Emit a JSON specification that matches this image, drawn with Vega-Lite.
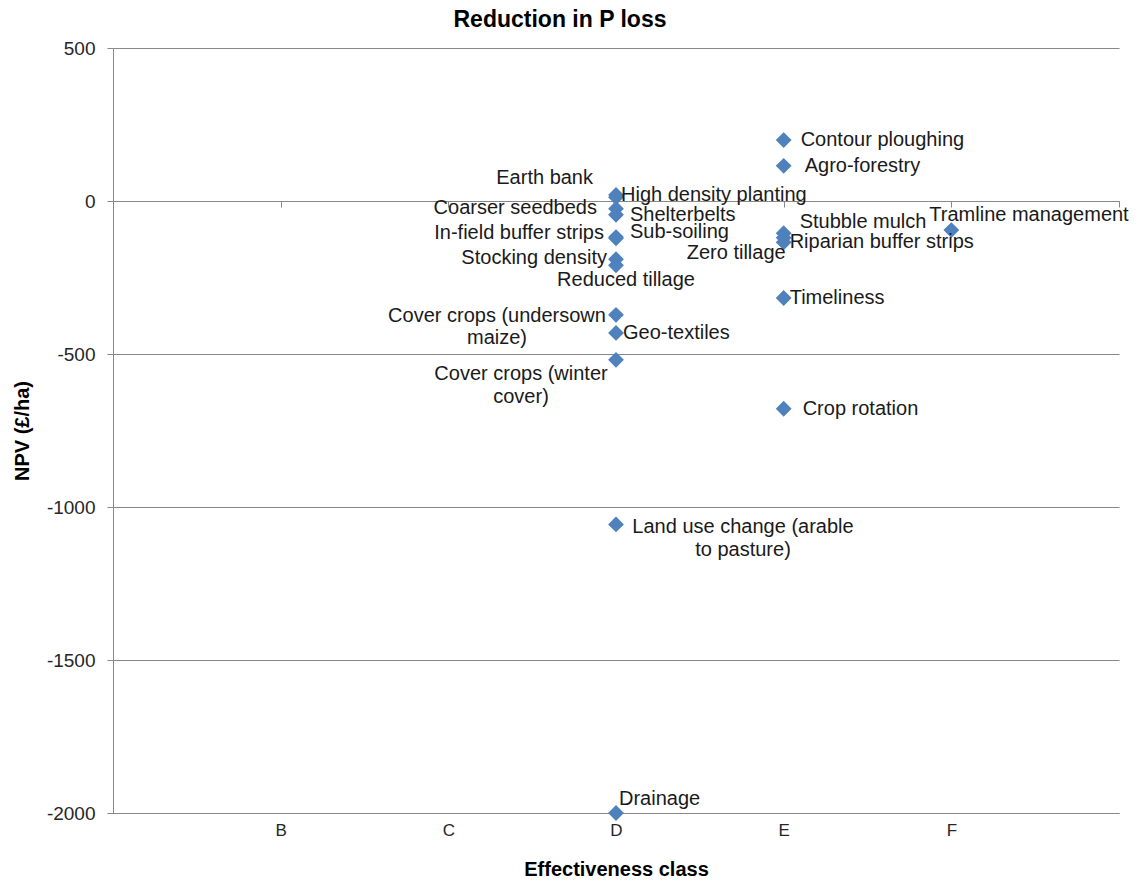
{
  "$schema": "https://vega.github.io/schema/vega-lite/v6.json",
  "autosize": "none",
  "width": 1006,
  "height": 765,
  "padding": {"left": 113, "top": 48, "right": 20, "bottom": 68},
  "background": "white",
  "title": {
    "text": "Reduction in P loss",
    "font": "Liberation Sans",
    "fontSize": 23,
    "fontWeight": "bold",
    "color": "#000000",
    "anchor": "middle",
    "dx": -56,
    "offset": 7
  },
  "config": {
    "view": {"stroke": null},
    "text": {"font": "Liberation Sans", "fontSize": 20, "color": "#1a1a1a", "baseline": "middle"}
  },
  "data": {
    "values": [
      {"measure": "Earth bank", "cls": 3, "npv": 20},
      {"measure": "High density planting", "cls": 3, "npv": 12},
      {"measure": "Coarser seedbeds", "cls": 3, "npv": -25},
      {"measure": "Shelterbelts", "cls": 3, "npv": -45},
      {"measure": "In-field buffer strips", "cls": 3, "npv": -118},
      {"measure": "Sub-soiling", "cls": 3, "npv": -122},
      {"measure": "Stocking density", "cls": 3, "npv": -190},
      {"measure": "Reduced tillage", "cls": 3, "npv": -210},
      {"measure": "Cover crops (undersown\nmaize)", "cls": 3, "npv": -372},
      {"measure": "Geo-textiles", "cls": 3, "npv": -431},
      {"measure": "Cover crops (winter\ncover)", "cls": 3, "npv": -519},
      {"measure": "Land use change (arable\nto pasture)", "cls": 3, "npv": -1057},
      {"measure": "Drainage", "cls": 3, "npv": -2000},
      {"measure": "Contour ploughing", "cls": 4, "npv": 199},
      {"measure": "Agro-forestry", "cls": 4, "npv": 115},
      {"measure": "Stubble mulch", "cls": 4, "npv": -105},
      {"measure": "Zero tillage", "cls": 4, "npv": -120},
      {"measure": "Riparian buffer strips", "cls": 4, "npv": -135},
      {"measure": "Timeliness", "cls": 4, "npv": -317},
      {"measure": "Crop rotation", "cls": 4, "npv": -679},
      {"measure": "Tramline management", "cls": 5, "npv": -95}
    ]
  },
  "encoding": {
    "x": {"field": "cls", "type": "quantitative", "scale": {"domain": [0, 6], "nice": false, "zero": false}, "axis": null},
    "y": {
      "field": "npv",
      "type": "quantitative",
      "scale": {"domain": [-2000, 500], "nice": false},
      "axis": {
        "values": [-2000, -1500, -1000, -500, 0, 500],
        "labelExpr": "'' + datum.value",
        "title": "NPV (£/ha)",
        "titleFont": "Liberation Sans",
        "titleFontSize": 20,
        "titleFontWeight": "bold",
        "titleColor": "#000000",
        "titlePadding": 14,
        "labelFont": "Liberation Sans",
        "labelFontSize": 19,
        "labelColor": "#262626",
        "labelPadding": 12,
        "grid": true,
        "gridColor": "#888888",
        "gridWidth": 1,
        "domainColor": "#888888",
        "tickColor": "#888888",
        "tickSize": 6
      }
    }
  },
  "layer": [
    {
      "mark": {"type": "point", "shape": "diamond", "filled": true, "size": 250, "color": "#4F81BD", "opacity": 1},
      "encoding": {
        "x": {
          "field": "cls",
          "type": "quantitative",
          "scale": {"domain": [0, 6], "nice": false, "zero": false},
          "axis": {
            "orient": "bottom",
            "values": [1, 2, 3, 4, 5],
            "labelExpr": "['A','B','C','D','E','F','G'][datum.value]",
            "title": "Effectiveness class",
            "titleFont": "Liberation Sans",
            "titleFontSize": 20,
            "titleFontWeight": "bold",
            "titleColor": "#000000",
            "titlePadding": 21,
            "labelFont": "Liberation Sans",
            "labelFontSize": 17,
            "labelColor": "#262626",
            "labelPadding": 9,
            "ticks": false,
            "grid": false,
            "domainColor": "#888888"
          }
        }
      }
    },
    {
      "transform": [{"filter": "datum.measure == 'Contour ploughing'"}],
      "mark": {"type": "text", "align": "left", "dx": 17, "dy": 0},
      "encoding": {
        "text": {"field": "measure"},
        "x": {
          "field": "cls",
          "type": "quantitative",
          "scale": {"domain": [0, 6], "nice": false, "zero": false},
          "axis": {
            "orient": "bottom",
            "offset": -612,
            "values": [0, 1, 2, 3, 4, 5, 6],
            "labels": false,
            "title": null,
            "grid": false,
            "ticks": true,
            "tickSize": 6,
            "tickColor": "#888888",
            "domainColor": "#888888"
          }
        }
      }
    },
    {"transform": [{"filter": "datum.measure == 'Agro-forestry'"}], "mark": {"type": "text", "align": "left", "dx": 21, "dy": 0}, "encoding": {"text": {"field": "measure"}}},
    {"transform": [{"filter": "datum.measure == 'High density planting'"}], "mark": {"type": "text", "align": "left", "dx": 5, "dy": -2}, "encoding": {"text": {"field": "measure"}}},
    {"transform": [{"filter": "datum.measure == 'Shelterbelts'"}], "mark": {"type": "text", "align": "left", "dx": 14, "dy": 0}, "encoding": {"text": {"field": "measure"}}},
    {"transform": [{"filter": "datum.measure == 'Sub-soiling'"}], "mark": {"type": "text", "align": "left", "dx": 14, "dy": -6}, "encoding": {"text": {"field": "measure"}}},
    {"transform": [{"filter": "datum.measure == 'Geo-textiles'"}], "mark": {"type": "text", "align": "left", "dx": 7, "dy": 0}, "encoding": {"text": {"field": "measure"}}},
    {"transform": [{"filter": "datum.measure == 'Timeliness'"}], "mark": {"type": "text", "align": "left", "dx": 6, "dy": 0}, "encoding": {"text": {"field": "measure"}}},
    {"transform": [{"filter": "datum.measure == 'Riparian buffer strips'"}], "mark": {"type": "text", "align": "left", "dx": 6, "dy": 0}, "encoding": {"text": {"field": "measure"}}},
    {"transform": [{"filter": "datum.measure == 'Crop rotation'"}], "mark": {"type": "text", "align": "left", "dx": 19, "dy": 0}, "encoding": {"text": {"field": "measure"}}},
    {"transform": [{"filter": "datum.measure == 'Stubble mulch'"}], "mark": {"type": "text", "align": "left", "dx": 16, "dy": -11}, "encoding": {"text": {"field": "measure"}}},
    {"transform": [{"filter": "datum.measure == 'Drainage'"}], "mark": {"type": "text", "align": "left", "dx": 3, "dy": -14}, "encoding": {"text": {"field": "measure"}}},
    {"transform": [{"filter": "datum.measure == 'Tramline management'"}], "mark": {"type": "text", "align": "left", "dx": -22, "dy": -15}, "encoding": {"text": {"field": "measure"}}},
    {"transform": [{"filter": "datum.measure == 'Earth bank'"}], "mark": {"type": "text", "align": "right", "dx": -23, "dy": -17}, "encoding": {"text": {"field": "measure"}}},
    {"transform": [{"filter": "datum.measure == 'Coarser seedbeds'"}], "mark": {"type": "text", "align": "right", "dx": -19, "dy": -1}, "encoding": {"text": {"field": "measure"}}},
    {"transform": [{"filter": "datum.measure == 'In-field buffer strips'"}], "mark": {"type": "text", "align": "right", "dx": -12, "dy": -4}, "encoding": {"text": {"field": "measure"}}},
    {"transform": [{"filter": "datum.measure == 'Stocking density'"}], "mark": {"type": "text", "align": "right", "dx": -9, "dy": -1}, "encoding": {"text": {"field": "measure"}}},
    {"transform": [{"filter": "datum.measure == 'Reduced tillage'"}], "mark": {"type": "text", "align": "center", "dx": 10, "dy": 15}, "encoding": {"text": {"field": "measure"}}},
    {"transform": [{"filter": "datum.measure == 'Zero tillage'"}], "mark": {"type": "text", "align": "right", "dx": 2, "dy": 15}, "encoding": {"text": {"field": "measure"}}},
    {"transform": [{"filter": "indexof(datum.measure, 'Cover crops (undersown') == 0"}], "mark": {"type": "text", "align": "center", "baseline": "alphabetic", "lineBreak": "\n", "lineHeight": 22, "dx": -119, "dy": 7}, "encoding": {"text": {"field": "measure"}}},
    {"transform": [{"filter": "indexof(datum.measure, 'Cover crops (winter') == 0"}], "mark": {"type": "text", "align": "center", "baseline": "alphabetic", "lineBreak": "\n", "lineHeight": 23, "dx": -95, "dy": 20}, "encoding": {"text": {"field": "measure"}}},
    {"transform": [{"filter": "indexof(datum.measure, 'Land use change') == 0"}], "mark": {"type": "text", "align": "center", "baseline": "alphabetic", "lineBreak": "\n", "lineHeight": 23, "dx": 127, "dy": 9}, "encoding": {"text": {"field": "measure"}}}
  ],
  "resolve": {"axis": {"x": "independent"}}
}
